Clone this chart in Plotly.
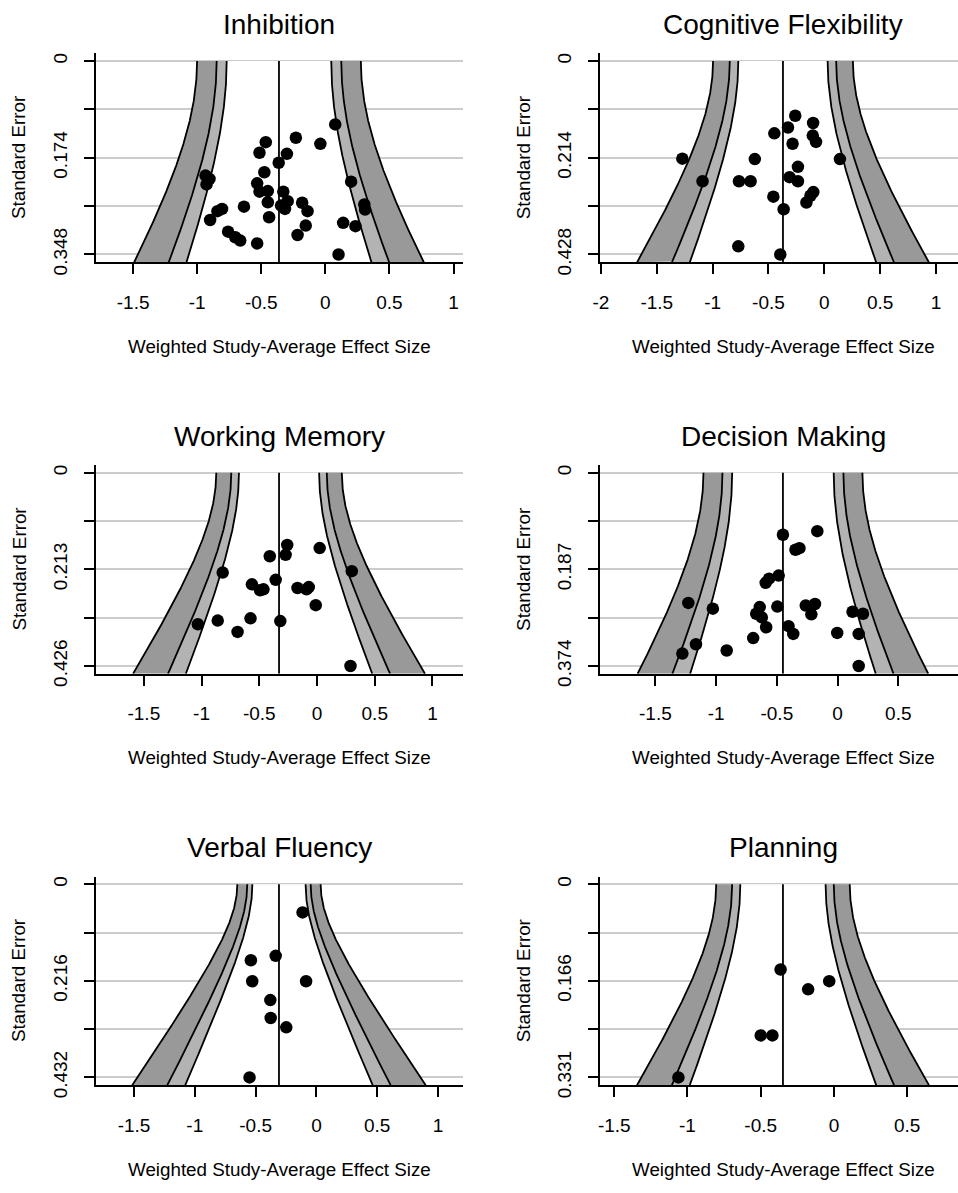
import numpy as np
import plotly.graph_objects as go

# ---------------- data ----------------
panel_titles = ["Inhibition", "Cognitive Flexibility", "Working Memory",
                "Decision Making", "Verbal Fluency", "Planning"]

inh_es = [0.077, -0.230, -0.039, -0.465, -0.514, -0.300, -0.364, -0.476, -0.935, -0.904,
          -0.927, -0.532, -0.514, -0.449, -0.328, 0.201, -0.449, -0.294, -0.346, -0.315,
          -0.181, -0.139, -0.635, -0.806, -0.842, -0.899, -0.439, 0.304, 0.310, 0.139,
          0.235, -0.153, -0.217, -0.759, -0.703, -0.664, -0.532, 0.103]
inh_se = [0.114, 0.138, 0.149, 0.146, 0.165, 0.167, 0.183, 0.200, 0.206, 0.212,
          0.222, 0.220, 0.235, 0.234, 0.235, 0.217, 0.254, 0.252, 0.260, 0.266,
          0.255, 0.270, 0.262, 0.266, 0.270, 0.286, 0.281, 0.258, 0.267, 0.291,
          0.297, 0.296, 0.313, 0.307, 0.317, 0.323, 0.328, 0.348]

cf_es = [-0.260, -0.100, -0.325, -0.447, -0.103, -0.074, -0.284, -1.271, -0.622, 0.140,
         -0.236, -1.090, -0.764, -0.660, -0.311, -0.236, -0.098, -0.124, -0.456, -0.160,
         -0.364, -0.770, -0.394]
cf_se = [0.121, 0.137, 0.147, 0.160, 0.165, 0.179, 0.183, 0.216, 0.217, 0.217,
         0.234, 0.266, 0.266, 0.266, 0.257, 0.266, 0.290, 0.298, 0.300, 0.313,
         0.328, 0.410, 0.428]

wm_es = [-0.258, 0.023, -0.409, -0.272, -0.817, 0.301, -0.358, -0.564, -0.493, -0.464,
         -0.169, -0.091, -0.071, -0.011, -1.032, -0.860, -0.576, -0.318, -0.688, 0.290]
wm_se = [0.159, 0.166, 0.184, 0.181, 0.220, 0.217, 0.236, 0.246, 0.259, 0.257,
         0.254, 0.257, 0.252, 0.292, 0.334, 0.326, 0.321, 0.327, 0.351, 0.426]

dm_es = [-0.450, -0.167, -0.347, -0.314, -0.485, -0.564, -0.592, -1.229, -1.027, -0.641,
         -0.496, -0.262, -0.186, -0.670, -0.624, -0.216, 0.123, 0.209, -0.588, -0.404,
         -0.365, -0.003, 0.174, -0.695, -1.166, -1.278, -0.913, 0.174]
dm_se = [0.120, 0.113, 0.149, 0.146, 0.199, 0.205, 0.213, 0.252, 0.263, 0.260,
         0.259, 0.257, 0.254, 0.273, 0.280, 0.274, 0.269, 0.273, 0.299, 0.297,
         0.312, 0.310, 0.312, 0.320, 0.332, 0.350, 0.344, 0.374]

vf_es = [-0.114, -0.335, -0.539, -0.528, -0.085, -0.379, -0.376, -0.248, -0.550]
vf_se = [0.063, 0.160, 0.170, 0.217, 0.217, 0.259, 0.299, 0.320, 0.432]

pl_es = [-0.364, -0.032, -0.176, -0.500, -0.420, -1.062]
pl_se = [0.146, 0.166, 0.180, 0.259, 0.259, 0.331]

effects = [inh_es, cf_es, wm_es, dm_es, vf_es, pl_es]
std_errors = [inh_se, cf_se, wm_se, dm_se, vf_se, pl_se]

pooled_mu = [-0.362, -0.370, -0.329, -0.450, -0.308, -0.348]
tau = [0.248, 0.243, 0.211, 0.254, 0.133, 0.177]
se_max = [0.348, 0.428, 0.426, 0.374, 0.432, 0.331]
se_tick_labels = [["0", "0.174", "0.348"], ["0", "0.214", "0.428"],
                  ["0", "0.213", "0.426"], ["0", "0.187", "0.374"],
                  ["0", "0.216", "0.432"], ["0", "0.166", "0.331"]]
x_tick_vals = [[-1.5, -1, -0.5, 0, 0.5, 1],
               [-2, -1.5, -1, -0.5, 0, 0.5, 1],
               [-1.5, -1, -0.5, 0, 0.5, 1],
               [-1.5, -1, -0.5, 0, 0.5, 1],
               [-1.5, -1, -0.5, 0, 0.5, 1],
               [-1.5, -1, -0.5, 0, 0.5]]
x_tick_text = [["-1.5", "-1", "-0.5", "0", "0.5", "1"],
               ["-2", "-1.5", "-1", "-0.5", "0", "0.5", "1"],
               ["-1.5", "-1", "-0.5", "0", "0.5", "1"],
               ["-1.5", "-1", "-0.5", "0", "0.5", "1"],
               ["-1.5", "-1", "-0.5", "0", "0.5", "1"],
               ["-1.5", "-1", "-0.5", "0", "0.5"]]
z_levels = [1.6449, 1.9600, 2.5758]   # 90%, 95%, 99%

# ---------------- layout geometry (pixels) ----------------
W, H = 958, 1193
col_left = [89.3, 597.3]
col_width = 369.7
row_zero = [61.7, 478.0, 894.0]
row_span = [195.6, 195.3, 195.3]
x_zero_px = [320.7, 823.3, 312.3, 836.7, 311.7, 833.0]
x_scale = [129.1, 112.5, 116.3, 122.35, 122.5, 147.5]

FONT = "Liberation Sans, Arial, Helvetica, sans-serif"
DARK = "#999999"
LIGHT = "#B3B3B3"
TICK_FS = 19
LAB_FS = 18.8
TITLE_FS = 28

fig = go.Figure()
layout = dict(width=W, height=H, margin=dict(l=0, r=0, t=0, b=0),
              paper_bgcolor="white", plot_bgcolor="white", showlegend=False,
              font=dict(family=FONT, color="black"))
annotations = []

for i in range(6):
    r, c = divmod(i, 2)
    m = se_max[i]
    mu = pooled_mu[i]
    t = tau[i]
    xn = "x" if i == 0 else f"x{i+1}"
    yn = "y" if i == 0 else f"y{i+1}"

    top_px = row_zero[r] - 0.04 * row_span[r]
    bot_px = row_zero[r] + 1.04 * row_span[r]
    left_px = col_left[c]
    right_px = min(col_left[c] + col_width, W)

    xr = [(left_px - x_zero_px[i]) / x_scale[i], (right_px - x_zero_px[i]) / x_scale[i]]

    se = np.linspace(0, 1.04 * m, 300)
    half = [z * np.sqrt(se ** 2 + t ** 2) for z in z_levels]
    inner_l, mid_l, out_l = [mu - h for h in half]
    inner_r, mid_r, out_r = [mu + h for h in half]

    def poly(xa, xb, color):
        fig.add_trace(go.Scatter(
            x=np.concatenate([xa, xb[::-1]]), y=np.concatenate([se, se[::-1]]),
            mode="lines", fill="toself", fillcolor=color, line=dict(width=0),
            hoverinfo="skip", xaxis=xn, yaxis=yn))

    poly(out_l, mid_l, DARK)
    poly(out_r, mid_r, DARK)
    poly(mid_l, inner_l, LIGHT)
    poly(mid_r, inner_r, LIGHT)
    poly(inner_l, inner_r, "white")
    for curve in [inner_l, mid_l, out_l, inner_r, mid_r, out_r]:
        fig.add_trace(go.Scatter(x=curve, y=se, mode="lines",
                                 line=dict(color="black", width=1.8),
                                 hoverinfo="skip", xaxis=xn, yaxis=yn))
    fig.add_trace(go.Scatter(x=[mu, mu], y=[0, 1.04 * m], mode="lines",
                             line=dict(color="black", width=1.8),
                             hoverinfo="skip", xaxis=xn, yaxis=yn))
    fig.add_trace(go.Scatter(x=effects[i], y=std_errors[i], mode="markers",
                             marker=dict(color="black", size=12.5, line=dict(width=0)),
                             xaxis=xn, yaxis=yn))

    yt = [0, m / 4, m / 2, 3 * m / 4, m]
    ytt = [se_tick_labels[i][0], "", se_tick_labels[i][1], "", se_tick_labels[i][2]]

    layout["xaxis" if i == 0 else f"xaxis{i+1}"] = dict(
        domain=[left_px / W, right_px / W], range=xr, anchor=yn,
        tickvals=x_tick_vals[i], ticktext=x_tick_text[i],
        ticks="outside", ticklen=10, tickwidth=1.8, tickcolor="black",
        showline=True, linecolor="black", linewidth=1.8,
        showgrid=False, zeroline=False, tickfont=dict(size=TICK_FS, family=FONT),
        ticklabelstandoff=12, fixedrange=True)
    layout["yaxis" if i == 0 else f"yaxis{i+1}"] = dict(
        domain=[1 - bot_px / H, 1 - top_px / H], range=[1.04 * m, -0.04 * m], anchor=xn,
        tickvals=yt, ticktext=ytt, tickangle=-90,
        ticks="outside", ticklen=10, tickwidth=1.8, tickcolor="black",
        showline=True, linecolor="black", linewidth=1.8,
        showgrid=True, gridcolor="#CCCCCC", gridwidth=1.6,
        zeroline=False, tickfont=dict(size=TICK_FS, family=FONT),
        ticklabelstandoff=9, fixedrange=True)

    cx = (col_left[c] + col_width / 2) / W
    annotations.append(dict(text=panel_titles[i], x=cx, y=1 - (row_zero[r] - 37) / H,
                            xref="paper", yref="paper", xanchor="center", yanchor="middle",
                            showarrow=False, font=dict(size=TITLE_FS, family=FONT)))
    annotations.append(dict(text="Weighted Study-Average Effect Size", x=cx,
                            y=1 - (bot_px + 85) / H, xref="paper", yref="paper",
                            xanchor="center", yanchor="middle", showarrow=False,
                            font=dict(size=LAB_FS, family=FONT)))
    annotations.append(dict(text="Standard Error", x=(col_left[c] - 77) / W,
                            y=1 - ((top_px + bot_px) / 2) / H, xref="paper", yref="paper",
                            xanchor="center", yanchor="middle", textangle=-90,
                            showarrow=False, font=dict(size=LAB_FS, family=FONT)))

layout["annotations"] = annotations
fig.update_layout(**layout)
fig.write_html("out.html")
